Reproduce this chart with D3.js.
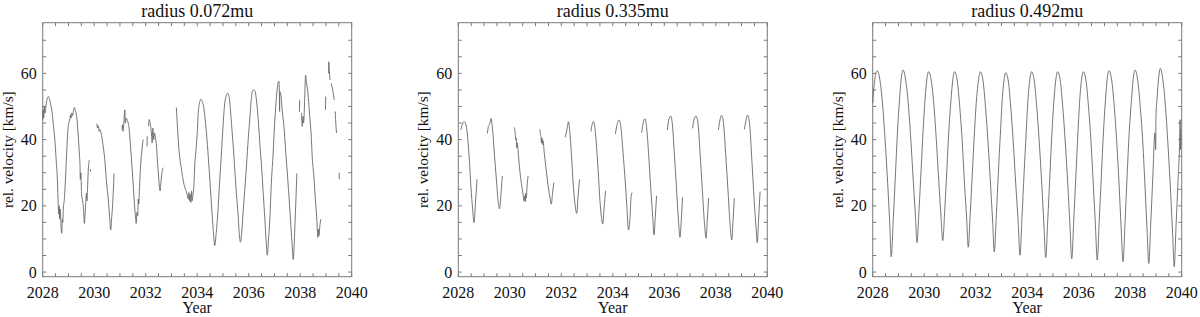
<!DOCTYPE html>
<html>
<head>
<meta charset="utf-8">
<script src="https://cdn.jsdelivr.net/npm/d3@7"></script>
<style>
    body { margin: 0; background: white; }
    text { font-family: 'Liberation Serif', 'DejaVu Serif', serif; fill: #111; }
</style>
</head>
<body>
<div id="graphContainer"></div>
<script>
// titles of the three panels
const titles = ['radius 0.072mu', 'radius 0.335mu', 'radius 0.492mu'];
const xTicks = [2028, 2030, 2032, 2034, 2036, 2038, 2040];
const yTicks = [0, 20, 40, 60];

// each panel: list of pieces, each piece = [year, rel. velocity km/s]
const radius072 = [
    [[2028.00,46],[2028.02,49],[2028.04,46.5],[2028.06,50],[2028.09,48],[2028.14,51],[2028.22,53],[2028.30,51],
     [2028.36,48.5],[2028.42,44],[2028.48,39],[2028.53,33],[2028.57,27.8],[2028.60,21],[2028.62,17.5],[2028.64,20],
     [2028.66,16],[2028.68,19],[2028.71,14],[2028.74,11.7],[2028.76,16],[2028.78,15],[2028.80,19],[2028.84,22],
     [2028.87,25.8],[2028.93,35.9],[2028.99,43.9],[2029.03,45.5],[2029.06,46.4],[2029.08,47.5],[2029.10,46.5],
     [2029.13,48],[2029.16,47.2],[2029.19,48.5],[2029.23,49.7],[2029.27,48.8],[2029.32,46.9],[2029.39,39.9],
     [2029.43,35],[2029.45,31.8],[2029.46,28],[2029.48,30],[2029.51,23.8],[2029.55,21.5],[2029.58,19.7],
     [2029.62,14.7],[2029.65,18],[2029.67,20.7],[2029.70,23.8],[2029.72,21.5],[2029.74,25],[2029.77,30.8],[2029.81,33.8]],
    [[2029.85,31],[2029.86,30.3]],
    [[2030.10,44.8],[2030.13,43.5],[2030.16,44.2],[2030.19,42.5],[2030.22,43],[2030.27,41.9],[2030.34,38.5],
     [2030.41,34],[2030.48,27],[2030.55,21.7],[2030.60,16.5],[2030.64,12.7],[2030.68,16.5],[2030.71,19.7],
     [2030.74,24],[2030.77,29.8]],
    [[2031.08,43],[2031.10,44.5],[2031.12,42.5],[2031.15,45],[2031.19,49],[2031.21,45],[2031.24,46.5],[2031.28,46],
     [2031.32,45],[2031.36,43],[2031.41,38],[2031.45,33.8],[2031.52,25.8],[2031.57,19.7],[2031.60,17],[2031.63,14.7],
     [2031.66,18],[2031.69,17],[2031.71,22],[2031.73,20.5],[2031.76,25.8],[2031.80,32],[2031.84,35.8],[2031.90,40]],
    [[2032.05,38],[2032.06,41]],
    [[2032.11,44],[2032.14,46.1],[2032.17,45],[2032.20,43.5],[2032.23,41],[2032.25,39],[2032.28,43.5],[2032.31,40],
     [2032.34,42],[2032.38,40.5],[2032.42,38],[2032.46,33],[2032.50,29],[2032.53,26],[2032.56,24.5],[2032.59,27],
     [2032.63,30],[2032.68,31.5]],
    [[2033.19,49.7],[2033.24,43],[2033.29,37],[2033.34,33.5],[2033.40,30.5],[2033.46,27.5],[2033.52,25.5],
     [2033.58,24.3],[2033.62,23],[2033.66,22],[2033.68,24],[2033.70,21.5],[2033.73,23.5],[2033.75,21],[2033.78,24.5],
     [2033.80,21.5],[2033.83,23],[2033.87,26],[2033.91,33],[2033.95,36.5],[2033.98,39.5],[2034.01,43],[2034.04,48],
     [2034.09,51],[2034.14,52.2],[2034.20,51.5],[2034.25,50],[2034.31,46],[2034.36,42],[2034.43,34.8],[2034.49,28],
     [2034.56,19.7],[2034.62,13],[2034.68,8],[2034.74,12],[2034.80,17.7],[2034.87,27],[2034.95,37],[2035.01,45],
     [2035.07,51],[2035.12,53],[2035.18,54],[2035.24,53],[2035.29,49],[2035.35,43],[2035.40,38],[2035.46,31],
     [2035.52,24],[2035.59,17],[2035.64,11],[2035.68,9],[2035.73,12],[2035.78,17.8],[2035.85,25],[2035.92,32.8],
     [2035.98,40],[2036.05,47],[2036.11,53],[2036.15,54.8],[2036.20,55],[2036.25,54.5],[2036.30,52],[2036.37,46],
     [2036.44,38],[2036.50,31.8],[2036.57,23],[2036.63,15.7],[2036.68,9],[2036.72,5.1],[2036.77,10],[2036.82,16],
     [2036.88,27],[2036.95,36],[2037.00,44],[2037.05,50],[2037.09,54],[2037.14,57],[2037.17,57.7],[2037.19,55],
     [2037.20,48.5],[2037.21,54.5],[2037.25,53.5],[2037.30,49],[2037.38,42.9],[2037.45,35],[2037.51,28.8],
     [2037.58,21],[2037.64,13.7],[2037.69,8],[2037.73,3.8],[2037.77,9],[2037.80,15],[2037.83,21],[2037.87,29.8]],
    [[2037.97,48.4],[2037.98,52]],
    [[2038.05,48],[2038.08,44],[2038.11,47],[2038.13,45],[2038.16,49],[2038.18,54],[2038.21,59.5],[2038.24,57.5],
     [2038.30,54],[2038.36,48],[2038.43,40.9],[2038.48,33],[2038.50,31.5],[2038.53,29],[2038.59,21.8],[2038.64,16.7],
     [2038.67,12],[2038.69,10.5],[2038.71,13],[2038.73,11],[2038.76,13.7],[2038.80,16]],
    [[2038.98,49],[2038.99,53]],
    [[2039.10,60],[2039.11,63.5],[2039.13,61],[2039.16,58]],
    [[2039.20,57],[2039.26,55],[2039.32,52]],
    [[2039.36,48.5],[2039.39,44],[2039.41,42]],
    [[2039.51,30],[2039.52,28]]
];

const radius335 = [
    [[2028.10,42.9],[2028.16,44.7],[2028.23,45.4],[2028.30,44.4],[2028.36,40.9],[2028.43,33.8],[2028.49,25.8],
     [2028.56,18.7],[2028.61,14.9],[2028.65,18.7],[2028.69,23.8],[2028.73,28]],
    [[2029.13,41.9],[2029.17,44],[2029.21,44.5],[2029.24,45.4],[2029.27,46.4],[2029.32,43.9],[2029.40,35.8],
     [2029.48,27.8],[2029.55,21.2],[2029.60,19.1],[2029.66,23.8],[2029.71,29]],
    [[2030.17,43.7],[2030.21,42],[2030.23,40],[2030.25,40.5],[2030.27,37.5],[2030.29,39],[2030.34,34.8],
     [2030.40,29.8],[2030.47,25.8],[2030.52,23.3],[2030.55,21.5],[2030.58,23],[2030.60,21.2],[2030.62,23.8],
     [2030.64,22.3],[2030.67,25.8],[2030.71,29]],
    [[2031.17,43.1],[2031.19,41.5],[2031.21,41],[2031.23,39],[2031.25,40.5],[2031.27,38.5],[2031.29,39.7],
     [2031.34,35.8],[2031.40,31.8],[2031.46,27.8],[2031.52,24.3],[2031.57,22],[2031.61,20.5],[2031.66,23.8],[2031.71,27]],
    [[2032.15,40.7],[2032.20,42.3],[2032.24,44],[2032.28,45.4],[2032.33,42.3],[2032.40,34.8],[2032.46,26.8],
     [2032.53,20.7],[2032.60,17.7],[2032.65,22.8],[2032.71,28]],
    [[2033.15,42.4],[2033.20,44.7],[2033.25,45.4],[2033.30,43.9],[2033.37,37.8],[2033.43,30.8],[2033.50,21.7],
     [2033.56,16.5],[2033.61,14.5],[2033.66,19.2],[2033.72,24.5]],
    [[2034.10,41.7],[2034.15,44],[2034.20,45.5],[2034.24,45.9],[2034.32,43.4],[2034.38,37.8],[2034.46,29.8],
     [2034.54,20.7],[2034.61,12.7],[2034.67,16.7],[2034.71,22.8],[2034.75,24]],
    [[2035.12,42.1],[2035.19,45.4],[2035.25,46.3],[2035.31,43.9],[2035.39,35.8],[2035.47,25.8],[2035.55,16.7],
     [2035.60,11.2],[2035.65,16.7],[2035.70,23]],
    [[2036.12,42.9],[2036.17,45.9],[2036.25,47.1],[2036.31,44.9],[2036.39,35.8],[2036.47,25.8],[2036.55,15.7],
     [2036.61,10.5],[2036.66,15.7],[2036.71,22.6]],
    [[2037.10,43.4],[2037.15,45.9],[2037.23,47.1],[2037.30,45.4],[2037.39,35.8],[2037.47,25.8],[2037.56,14.7],
     [2037.62,10.2],[2037.67,15.7],[2037.72,22.3]],
    [[2038.10,42.9],[2038.16,45.9],[2038.23,47.3],[2038.30,44.9],[2038.39,34.8],[2038.48,23.8],[2038.56,13.7],
     [2038.62,9.7],[2038.67,15.7],[2038.72,22.3]],
    [[2039.11,43.1],[2039.18,46.1],[2039.23,47.4],[2039.31,44.9],[2039.40,33.8],[2039.49,21.7],[2039.57,12.7],
     [2039.61,8.9],[2039.66,15.7],[2039.72,24.3]]
];

const radius492 = [
    [[2028.00,51],[2028.04,55],[2028.08,58],[2028.12,60],[2028.18,60.8],[2028.28,58],[2028.38,51],[2028.48,40],
     [2028.58,27],[2028.66,15],[2028.72,4.6],[2028.80,16],[2028.88,29],[2028.96,42],[2029.04,52],[2029.11,58.5],
     [2029.18,61],[2029.28,58],[2029.38,51],[2029.48,40],[2029.58,27],[2029.66,17],[2029.72,8.9],[2029.80,19],
     [2029.88,31],[2029.96,43],[2030.03,52],[2030.10,58],[2030.17,60.5],[2030.27,58],[2030.37,51],[2030.47,40],
     [2030.57,27],[2030.65,17],[2030.72,9.5],[2030.80,19],[2030.88,31],[2030.96,43],[2031.04,52],[2031.11,58],
     [2031.18,60.5],[2031.28,58],[2031.38,50],[2031.48,39],[2031.57,26],[2031.65,16],[2031.71,7.5],[2031.79,18],
     [2031.87,30],[2031.95,42],[2032.03,52],[2032.11,58],[2032.18,60.5],[2032.28,58],[2032.38,50],[2032.48,39],
     [2032.58,26],[2032.66,15],[2032.72,6.1],[2032.80,17],[2032.88,30],[2032.96,42],[2033.03,52],[2033.10,58],
     [2033.16,60.2],[2033.26,58],[2033.36,50],[2033.46,39],[2033.56,26],[2033.65,15],[2033.72,5.1],[2033.80,17],
     [2033.88,30],[2033.96,42],[2034.03,52],[2034.10,58],[2034.17,60.5],[2034.27,58],[2034.37,50],[2034.47,39],
     [2034.57,26],[2034.65,14],[2034.72,4.4],[2034.80,16],[2034.88,29],[2034.96,42],[2035.04,52],[2035.11,58],
     [2035.18,60.5],[2035.28,58],[2035.38,50],[2035.48,39],[2035.58,26],[2035.66,14],[2035.73,4.0],[2035.81,16],
     [2035.89,29],[2035.97,42],[2036.04,52],[2036.11,58],[2036.18,60.5],[2036.28,58],[2036.38,50],[2036.48,39],
     [2036.57,26],[2036.65,14],[2036.72,3.6],[2036.80,16],[2036.88,29],[2036.96,42],[2037.04,52],[2037.11,58.5],
     [2037.18,60.8],[2037.28,58],[2037.38,50],[2037.48,39],[2037.57,26],[2037.65,13],[2037.72,3.1],[2037.80,15],
     [2037.88,29],[2037.96,42],[2038.05,52],[2038.12,58.5],[2038.19,61],[2038.29,58],[2038.39,50],[2038.49,39],
     [2038.58,25],[2038.66,12],[2038.72,2.6],[2038.80,15],[2038.88,29],[2038.96,42],[2038.99,37],[2039.00,47],
     [2039.04,52],[2039.11,59],[2039.17,61.5],[2039.27,58],[2039.37,50],[2039.47,38],[2039.57,24],[2039.65,11],
     [2039.71,1.6],[2039.78,14],[2039.86,28],[2039.92,39],[2039.94,46],[2039.95,37],[2039.97,43]]
];

const panels = [radius072, radius335, radius492];
const panelLeft = [42.7, 458.3, 872.7];
const plotW = 309, plotTop = 22.7, plotBottom = 276.7;

drawGraph();

function drawGraph() {
    const svg = d3.select('#graphContainer')
        .append('svg')
        .attr('width', 1200)
        .attr('height', 317)
        .style('background', 'white');

    panels.forEach(function (pieces, i) {
        drawPanel(svg, pieces, titles[i], panelLeft[i]);
    });
}

function drawPanel(svg, pieces, title, left) {
    const x = d3.scaleLinear().domain([2028, 2040]).range([left, left + plotW]);
    const y = d3.scaleLinear().domain([-1.4, 75.3]).range([plotBottom, plotTop]);
    const g = svg.append('g');

    // frame
    g.append('rect')
        .attr('x', left).attr('y', plotTop)
        .attr('width', plotW).attr('height', plotBottom - plotTop)
        .attr('fill', 'none').attr('stroke', '#7a7a7a').attr('stroke-width', 1);

    // ticks on all four sides, pointing inward
    const xMinor = d3.range(2028, 2040.01, 0.5);
    const yMinor = d3.range(0, 75, 5);
    const tick = 3.5;
    g.append('g').selectAll('line').data(xMinor).enter().append('line')
        .attr('x1', d => x(d)).attr('x2', d => x(d))
        .attr('y1', plotBottom).attr('y2', plotBottom - tick)
        .attr('stroke', '#7a7a7a');
    g.append('g').selectAll('line').data(xMinor).enter().append('line')
        .attr('x1', d => x(d)).attr('x2', d => x(d))
        .attr('y1', plotTop).attr('y2', plotTop + tick)
        .attr('stroke', '#7a7a7a');
    g.append('g').selectAll('line').data(yMinor).enter().append('line')
        .attr('x1', left).attr('x2', left + tick)
        .attr('y1', d => y(d)).attr('y2', d => y(d))
        .attr('stroke', '#7a7a7a');
    g.append('g').selectAll('line').data(yMinor).enter().append('line')
        .attr('x1', left + plotW).attr('x2', left + plotW - tick)
        .attr('y1', d => y(d)).attr('y2', d => y(d))
        .attr('stroke', '#7a7a7a');

    // tick labels
    g.append('g').selectAll('text').data(xTicks).enter().append('text')
        .attr('x', d => x(d)).attr('y', plotBottom + 21.6)
        .attr('text-anchor', 'middle').attr('font-size', 16)
        .text(d => d);
    g.append('g').selectAll('text').data(yTicks).enter().append('text')
        .attr('x', left - 6).attr('y', d => y(d)).attr('dy', '0.34em')
        .attr('text-anchor', 'end').attr('font-size', 16)
        .text(d => d);

    // axis titles
    g.append('text')
        .attr('x', left + plotW / 2).attr('y', plotBottom + 36.6)
        .attr('text-anchor', 'middle').attr('font-size', 16)
        .text('Year');
    g.append('text')
        .attr('transform', 'translate(' + (left - 30) + ',' + (plotTop + plotBottom) / 2 + ') rotate(-90)')
        .attr('text-anchor', 'middle').attr('font-size', 15.3)
        .text('rel. velocity [km/s]');
    g.append('text')
        .attr('x', left + plotW / 2).attr('y', 16.5)
        .attr('text-anchor', 'middle').attr('font-size', 18)
        .text(title);

    const line = d3.line()
        .x(d => x(d[0]))
        .y(d => y(d[1]))
        .curve(d3.curveMonotoneX);

    g.append('g').selectAll('path').data(pieces).enter().append('path')
        .attr('d', line)
        .attr('fill', 'none')
        .attr('stroke', '#666')
        .attr('stroke-width', 0.9);
}
</script>
</body>
</html>
